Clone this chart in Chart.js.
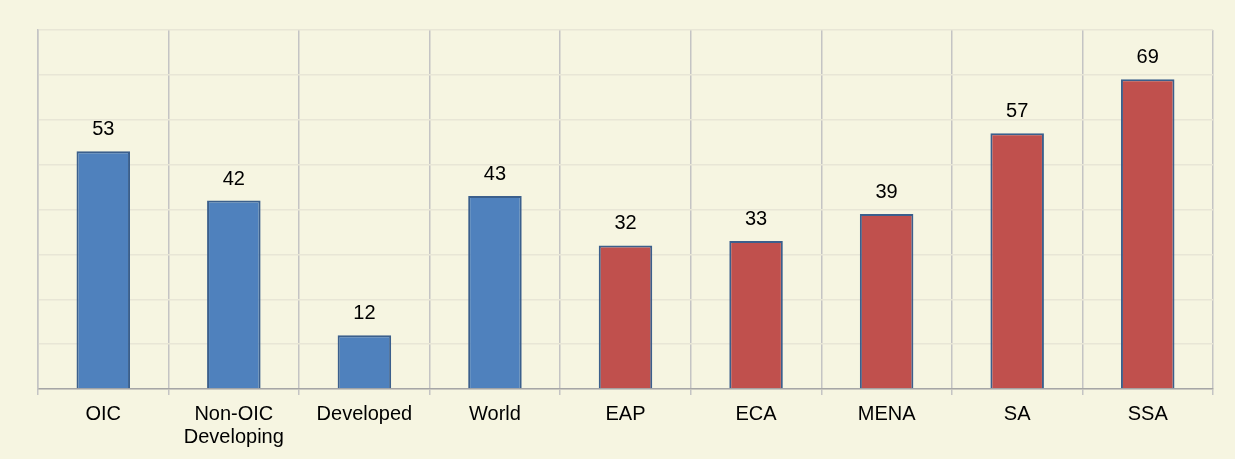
<!DOCTYPE html>
<html>
<head>
<meta charset="utf-8">
<script src="https://cdn.jsdelivr.net/npm/chart.js@4/dist/chart.umd.min.js"></script>
<style>
  html, body { margin: 0; padding: 0; background: #f6f5e1; }
  #wrap { width: 1235px; height: 459px; }
</style>
</head>
<body>
<div id="wrap"><canvas id="chart"></canvas></div>
<script>
const categories = ['OIC', ['Non-OIC', 'Developing'], 'Developed', 'World', 'EAP', 'ECA', 'MENA', 'SA', 'SSA'];
const values = [53, 42, 12, 43, 32, 33, 39, 57, 69];
const barColors = ['#4f81bd', '#4f81bd', '#4f81bd', '#4f81bd', '#c0504d', '#c0504d', '#c0504d', '#c0504d', '#c0504d'];

// draw the value above each bar
const valueLabels = {
  id: 'valueLabels',
  afterDatasetsDraw(chart) {
    const ctx = chart.ctx;
    ctx.save();
    ctx.font = '20px "Liberation Sans", Arial, sans-serif';
    ctx.fillStyle = '#000';
    ctx.textAlign = 'center';
    ctx.textBaseline = 'alphabetic';
    chart.getDatasetMeta(0).data.forEach((bar, i) => {
      ctx.fillText(values[i], bar.x, bar.y - 16);
    });
    ctx.restore();
  }
};

new Chart(document.getElementById('chart').getContext('2d'), {
  type: 'bar',
  data: {
    labels: categories,
    datasets: [{
      data: values,
      backgroundColor: barColors,
      borderColor: '#3b5f8c',
      borderWidth: 2,
      categoryPercentage: 0.41,
      barPercentage: 1
    }]
  },
  options: {
    responsive: true,
    maintainAspectRatio: false,
    animation: false,
    layout: { padding: { left: 38, right: 22, top: 30, bottom: 2 } },
    plugins: {
      legend: { display: false },
      tooltip: { enabled: false }
    },
    scales: {
      x: {
        offset: true,
        grid: { offset: true, color: '#c4c4c4', lineWidth: 1.5, tickLength: 6 },
        border: { color: '#a6a6a6', width: 1.5 },
        ticks: {
          color: '#000',
          font: { family: '"Liberation Sans", Arial, sans-serif', size: 20, lineHeight: 1.15 },
          maxRotation: 0,
          autoSkip: false,
          padding: 8
        }
      },
      y: {
        min: 0,
        max: 80,
        ticks: { display: false, stepSize: 10 },
        grid: { color: '#e8e6d6', lineWidth: 1.5, drawTicks: false },
        border: { color: '#c4c4c4', width: 1.5 }
      }
    }
  },
  plugins: [valueLabels]
});
</script>
</body>
</html>
